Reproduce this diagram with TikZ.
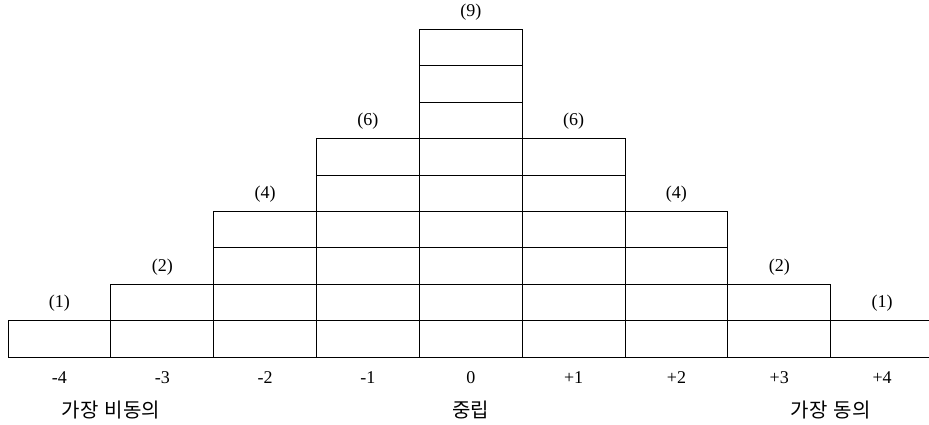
\documentclass[tikz,border=0pt]{standalone}
\usepackage{fontspec}
\setmainfont{Liberation Serif}
\newfontfamily\kofont{Noto Sans CJK KR}
\usetikzlibrary{positioning,calc}

\tikzset{
  cntlabel/.style={font=\fontsize{18}{18}\selectfont, inner sep=0pt},
  vallabel/.style={font=\fontsize{18}{18}\selectfont, inner sep=0pt},
  kolabel/.style={font=\kofont\fontsize{20}{20}\selectfont, inner sep=0pt}
}

\begin{document}
\begin{tikzpicture}[x=1pt,y=-1pt]

                % Grid size
                \def\colw{102.84}
                \def\rowh{36.4}
                \def\xleft{8}
                \def\ybase{357}

                \useasboundingbox (0,0) rectangle (929,425);
                \clip (0,0) rectangle (929,425);

                % Helper: draw cell at column c and row r
                % Columns counted from left, rows from bottom
                \newcommand{\qcell}[2]{%
                    \draw[line width=1pt] ({\xleft+(#1-1)*\colw},{\ybase-#2*\rowh}) rectangle ({\xleft+#1*\colw},{\ybase-(#2-1)*\rowh});
                }

                % ---- cells and counts ----
                \foreach \c/\n in {1/1,2/2,3/4,4/6,5/9,6/6,7/4,8/2,9/1} {
                    \foreach \r in {1,...,\n} {
                        \qcell{\c}{\r}
                    }
                    \node[cntlabel] (cnt\c) at ({\xleft+(\c-0.5)*\colw},{\ybase-\n*\rowh-17}) {(\n)};
                }

                % ---- scale values ----
                \foreach \c/\v in {1/-4,2/-3,3/-2,4/-1,5/0,6/+1,7/+2,8/+3,9/+4} {
                    \node[vallabel] (val\c) at ({\xleft+(\c-0.5)*\colw},378) {\v};
                }

                % ---- anchors of the scale ----
                \node[kolabel] (disagree) at ({\xleft+\colw},410) {가장\hspace{0.3em}비동의};
                \node[kolabel] (neutral) at ({\xleft+4.5*\colw},410) {중립};
                \node[kolabel] (agree) at ({\xleft+8*\colw},410) {가장\hspace{0.3em}동의};

            \end{tikzpicture}
\end{document}
